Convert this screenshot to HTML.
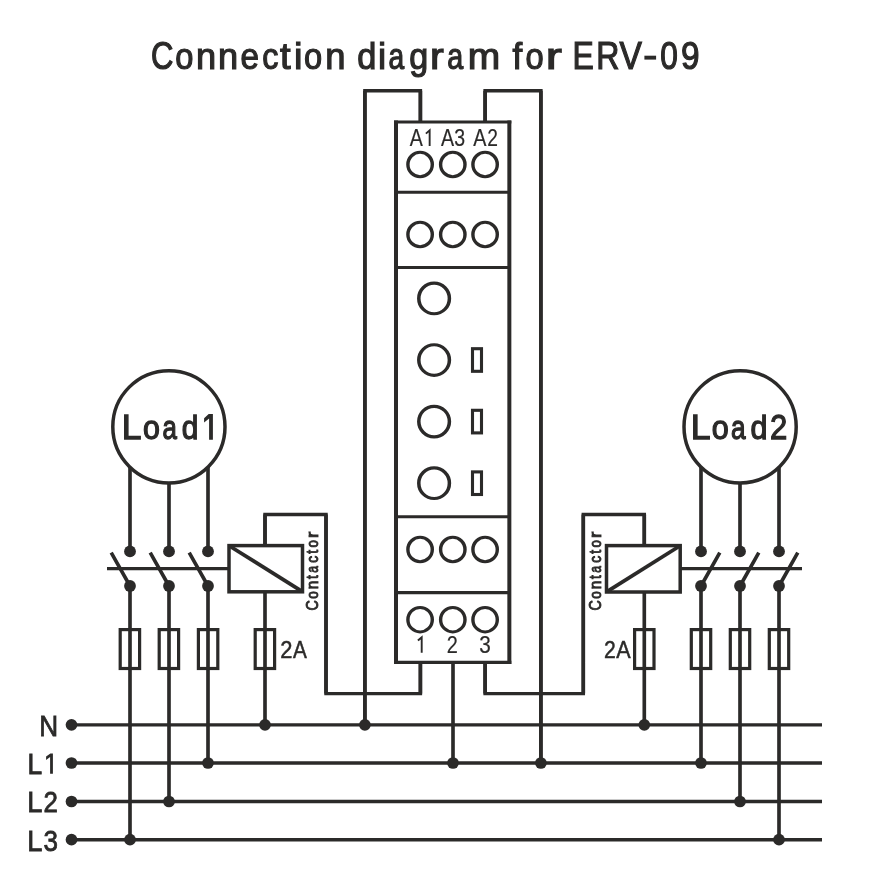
<!DOCTYPE html>
<html><head><meta charset="utf-8"><title>Connection diagram for ERV-09</title>
<style>
html,body{margin:0;padding:0;background:#fff;}
body{width:891px;height:875px;overflow:hidden;}
svg{display:block;will-change:transform;}
text{font-family:"Liberation Sans",sans-serif;fill:#2b2a29;}
</style></head>
<body>
<svg width="891" height="875" viewBox="0 0 891 875">
<g fill="none" stroke="#2b2a29" stroke-linecap="butt" stroke-linejoin="miter">
<path d="M71.5 724.8H822M71.5 763.0H822M71.5 801.5H822M71.5 839.7H822" stroke-width="3.35"/>
<path d="M420.4 122L420.4 90.8L364.9 90.8L364.9 724.8" stroke-width="3.45"/>
<path d="M420.4 122V90.8" stroke-width="3.65"/>
<path d="M364.9 90.8V724.8" stroke-width="3.65"/>
<path d="M485.1 122L485.1 90.8L540.9 90.8L540.9 763.0" stroke-width="3.45"/>
<path d="M485.1 122V90.8" stroke-width="3.65"/>
<path d="M540.9 90.8V763.0" stroke-width="3.65"/>
<path d="M420.4 662.5L420.4 693.6L326 693.6L326 514.4L265 514.4L265 546" stroke-width="3.45"/>
<path d="M420.4 662.5V693.6" stroke-width="3.65"/>
<path d="M326 693.6V514.4" stroke-width="3.65"/>
<path d="M265 514.4V546" stroke-width="3.65"/>
<path d="M485.1 662.5L485.1 693.6L583.3 693.6L583.3 514.4L644.3 514.4L644.3 546" stroke-width="3.45"/>
<path d="M485.1 662.5V693.6" stroke-width="3.65"/>
<path d="M583.3 693.6V514.4" stroke-width="3.65"/>
<path d="M644.3 514.4V546" stroke-width="3.65"/>
<path d="M453 662.5V763.0" stroke-width="3.65"/>
<path d="M130 440V551.5M169 440V551.5M208 440V551.5" stroke-width="3.65"/>
<path d="M130 586V839.7M169 586V801.5M208 586V763.0" stroke-width="3.65"/>
<path d="M701 440V551.5M740 440V551.5M779 440V551.5" stroke-width="3.65"/>
<path d="M701 586V763.0M740 586V801.5M779 586V839.7" stroke-width="3.65"/>
<path d="M265 591V724.8M644.3 591V724.8" stroke-width="3.65"/>
<path d="M111.2 552.6L130 586M150.2 552.6L169 586M189.2 552.6L208 586" stroke-width="3.6"/>
<path d="M719.8 552.6L701 586M758.8 552.6L740 586M797.8 552.6L779 586" stroke-width="3.6"/>
<path d="M107 568.6H229M680.2 568.6H802" stroke-width="3.4"/>
<path d="M394 122.0H511.35M394 662.4H511.35" stroke-width="3.2"/>
<path d="M396 120.4V664.0M509.35 120.4V664.0" stroke-width="4.0"/>
<path d="M396 192.2H509.35M396 267.5H509.35M396 516.8H509.35M396 592.6H509.35" stroke-width="3.05"/>
<rect x="229" y="545.6" width="73.5" height="46.2" fill="#fff" stroke-width="3.5"/>
<path d="M229.5 546L302 591.4" stroke-width="3.8"/>
<rect x="606.5" y="545.6" width="73.7" height="46.4" fill="#fff" stroke-width="3.5"/>
<path d="M607 591.6L679.7 546" stroke-width="3.8"/>
<g fill="#fff" stroke-width="3.2">
<rect x="120.2" y="629.6" width="19.4" height="38.9"/>
<rect x="159.2" y="629.6" width="19.4" height="38.9"/>
<rect x="198.4" y="629.6" width="19.4" height="38.9"/>
<rect x="255.2" y="629.6" width="19.4" height="38.9"/>
<rect x="634.6" y="629.6" width="19.4" height="38.9"/>
<rect x="691.3" y="629.6" width="19.4" height="38.9"/>
<rect x="730.3" y="629.6" width="19.4" height="38.9"/>
<rect x="769.3" y="629.6" width="19.4" height="38.9"/>
</g>
<path d="M130 628V670M169 628V670M208 628V670M265 628V670M644.3 628V670M701 628V670M740 628V670M779 628V670" stroke-width="3.65"/>
<circle cx="168.9" cy="426.8" r="56.1" fill="#fff" stroke-width="3.5"/>
<circle cx="740.1" cy="426.8" r="56.1" fill="#fff" stroke-width="3.5"/>
<g transform="scale(1.12 1)">
<ellipse cx="375.089" cy="164.5" rx="10.893" ry="12.2" stroke-width="3.05"/>
<ellipse cx="404.286" cy="164.5" rx="10.893" ry="12.2" stroke-width="3.05"/>
<ellipse cx="433.125" cy="164.5" rx="10.893" ry="12.2" stroke-width="3.05"/>
<ellipse cx="375.089" cy="234.5" rx="10.893" ry="12.2" stroke-width="3.05"/>
<ellipse cx="404.286" cy="234.5" rx="10.893" ry="12.2" stroke-width="3.05"/>
<ellipse cx="433.125" cy="234.5" rx="10.893" ry="12.2" stroke-width="3.05"/>
<ellipse cx="375.089" cy="549.5" rx="10.893" ry="12.2" stroke-width="3.05"/>
<ellipse cx="404.286" cy="549.5" rx="10.893" ry="12.2" stroke-width="3.05"/>
<ellipse cx="433.125" cy="549.5" rx="10.893" ry="12.2" stroke-width="3.05"/>
<ellipse cx="375.089" cy="619.7" rx="10.893" ry="12.2" stroke-width="3.05"/>
<ellipse cx="404.286" cy="619.7" rx="10.893" ry="12.2" stroke-width="3.05"/>
<ellipse cx="433.125" cy="619.7" rx="10.893" ry="12.2" stroke-width="3.05"/>
<ellipse cx="387.589" cy="298.4" rx="13.661" ry="15.3" stroke-width="3.15"/>
<ellipse cx="387.589" cy="360" rx="13.661" ry="15.3" stroke-width="3.15"/>
<ellipse cx="387.589" cy="421.6" rx="13.661" ry="15.3" stroke-width="3.15"/>
<ellipse cx="387.589" cy="483.2" rx="13.661" ry="15.3" stroke-width="3.15"/>
</g>
<g stroke-width="3.1">
<rect x="472.5" y="348.7" width="9" height="22.6"/>
<rect x="472.5" y="410.3" width="9" height="22.6"/>
<rect x="472.5" y="471.9" width="9" height="22.6"/>
</g>
</g>
<g fill="#2b2a29">
<circle cx="71.5" cy="724.8" r="5.85"/>
<circle cx="71.5" cy="763.0" r="5.85"/>
<circle cx="71.5" cy="801.5" r="5.85"/>
<circle cx="71.5" cy="839.7" r="5.85"/>
<circle cx="265" cy="724.8" r="5.85"/>
<circle cx="364.9" cy="724.8" r="5.85"/>
<circle cx="644.3" cy="724.8" r="5.85"/>
<circle cx="208" cy="763.0" r="5.85"/>
<circle cx="453" cy="763.0" r="5.85"/>
<circle cx="540.9" cy="763.0" r="5.85"/>
<circle cx="701" cy="763.0" r="5.85"/>
<circle cx="169" cy="801.5" r="5.85"/>
<circle cx="740" cy="801.5" r="5.85"/>
<circle cx="130" cy="839.7" r="5.85"/>
<circle cx="779" cy="839.7" r="5.85"/>
<circle cx="130" cy="551.4" r="5.9"/>
<circle cx="130" cy="586" r="5.9"/>
<circle cx="169" cy="551.4" r="5.9"/>
<circle cx="169" cy="586" r="5.9"/>
<circle cx="208" cy="551.4" r="5.9"/>
<circle cx="208" cy="586" r="5.9"/>
<circle cx="701" cy="551.4" r="5.9"/>
<circle cx="701" cy="586" r="5.9"/>
<circle cx="740" cy="551.4" r="5.9"/>
<circle cx="740" cy="586" r="5.9"/>
<circle cx="779" cy="551.4" r="5.9"/>
<circle cx="779" cy="586" r="5.9"/>
</g>
<!-- text -->
<g class="t" stroke="#2b2a29">
<g stroke-width="1.2">
  <text x="150.97" y="69" font-size="39.1" textLength="22.43" lengthAdjust="spacingAndGlyphs">C</text>
  <text x="175.32" y="69" font-size="36.8" textLength="18.15" lengthAdjust="spacingAndGlyphs">o</text>
  <text x="196.12" y="69" font-size="36.8" textLength="20.1" lengthAdjust="spacingAndGlyphs">n</text>
  <text x="218.02" y="69" font-size="36.8" textLength="20.1" lengthAdjust="spacingAndGlyphs">n</text>
  <text x="240.38" y="69" font-size="36.8" textLength="18.43" lengthAdjust="spacingAndGlyphs">e</text>
  <text x="262.31" y="69" font-size="36.8" textLength="16.18" lengthAdjust="spacingAndGlyphs">c</text>
  <text x="280.03" y="69" font-size="36.8" textLength="10.62" lengthAdjust="spacingAndGlyphs">t</text>
  <text x="294.06" y="69" font-size="36.8" textLength="8.5" lengthAdjust="spacingAndGlyphs">i</text>
  <text x="304.02" y="69" font-size="36.8" textLength="18.15" lengthAdjust="spacingAndGlyphs">o</text>
  <text x="325.22" y="69" font-size="36.8" textLength="20.22" lengthAdjust="spacingAndGlyphs">n</text>
  <text x="357.27" y="69" font-size="36.8" textLength="19.09" lengthAdjust="spacingAndGlyphs">d</text>
  <text x="378.12" y="69" font-size="36.8" textLength="8.14" lengthAdjust="spacingAndGlyphs">i</text>
  <text x="388.47" y="69" font-size="36.8" textLength="15.69" lengthAdjust="spacingAndGlyphs">a</text>
  <text x="409.18" y="69" font-size="36.8" textLength="18.97" lengthAdjust="spacingAndGlyphs">g</text>
  <text x="429.99" y="69" font-size="36.8" textLength="13.77" lengthAdjust="spacingAndGlyphs">r</text>
  <text x="447.36" y="69" font-size="36.8" textLength="16.0" lengthAdjust="spacingAndGlyphs">a</text>
  <text x="467.82" y="69" font-size="36.8" textLength="32.45" lengthAdjust="spacingAndGlyphs">m</text>
  <text x="512.56" y="69" font-size="36.8" textLength="9.67" lengthAdjust="spacingAndGlyphs">f</text>
  <text x="525.42" y="69" font-size="36.8" textLength="18.15" lengthAdjust="spacingAndGlyphs">o</text>
  <text x="545.65" y="69" font-size="36.8" textLength="16.14" lengthAdjust="spacingAndGlyphs">r</text>
  <text x="572.47" y="69" font-size="39.1" textLength="21.28" lengthAdjust="spacingAndGlyphs">E</text>
  <text x="596.17" y="69" font-size="39.1" textLength="23.16" lengthAdjust="spacingAndGlyphs">R</text>
  <text x="619.41" y="69" font-size="39.1" textLength="22.4" lengthAdjust="spacingAndGlyphs">V</text>
  <text x="660.27" y="69" font-size="39.1" textLength="17.6" lengthAdjust="spacingAndGlyphs">0</text>
  <text x="681.09" y="69" font-size="39.1" textLength="18.57" lengthAdjust="spacingAndGlyphs">9</text>
</g>
<g stroke-width="1.3">
  <text x="121.84" y="439.3" font-size="35.6" textLength="19.68" lengthAdjust="spacingAndGlyphs">L</text>
  <text x="143.11" y="439.3" font-size="33.5" textLength="16.9" lengthAdjust="spacingAndGlyphs">o</text>
  <text x="162.5" y="439.3" font-size="33.5" textLength="14.39" lengthAdjust="spacingAndGlyphs">a</text>
  <text x="181.73" y="439.3" font-size="33.5" textLength="16.58" lengthAdjust="spacingAndGlyphs">d</text>
  <text x="690.84" y="439.3" font-size="35.6" textLength="19.79" lengthAdjust="spacingAndGlyphs">L</text>
  <text x="711.71" y="439.3" font-size="33.5" textLength="17.01" lengthAdjust="spacingAndGlyphs">o</text>
  <text x="730.9" y="439.3" font-size="33.5" textLength="14.59" lengthAdjust="spacingAndGlyphs">a</text>
  <text x="750.51" y="439.3" font-size="33.5" textLength="16.95" lengthAdjust="spacingAndGlyphs">d</text>
  <text x="769.92" y="439.3" font-size="35.6" textLength="17.29" lengthAdjust="spacingAndGlyphs">2</text>
</g>



<g stroke-width="0.2">
  <text x="409.79" y="145.8" font-size="23.2" textLength="13.06" lengthAdjust="spacingAndGlyphs">A</text>
  <text x="440.89" y="145.8" font-size="23.2" textLength="13.06" lengthAdjust="spacingAndGlyphs">A</text>
  <text x="454.25" y="145.8" font-size="23.2" textLength="10.85" lengthAdjust="spacingAndGlyphs">3</text>
  <text x="473.21" y="145.8" font-size="23.2" textLength="13.17" lengthAdjust="spacingAndGlyphs">A</text>
  <text x="487.29" y="145.8" font-size="23.2" textLength="10.67" lengthAdjust="spacingAndGlyphs">2</text>
  <text x="446.66" y="652.7" font-size="23.0" textLength="11.06" lengthAdjust="spacingAndGlyphs">2</text>
  <text x="479.24" y="652.7" font-size="23.0" textLength="11.55" lengthAdjust="spacingAndGlyphs">3</text>
</g>
<g stroke-width="0.5">
  <text x="280.13" y="657.9" font-size="24.6" textLength="12.21" lengthAdjust="spacingAndGlyphs">2</text>
  <text x="292.95" y="657.9" font-size="24.6" textLength="13.84" lengthAdjust="spacingAndGlyphs">A</text>
  <text x="603.95" y="657.9" font-size="24.6" textLength="11.78" lengthAdjust="spacingAndGlyphs">2</text>
  <text x="616.15" y="657.9" font-size="24.6" textLength="14.35" lengthAdjust="spacingAndGlyphs">A</text>
</g>
<g stroke-width="0.8">
  <text x="39.24" y="735.7" font-size="28.8" textLength="18.87" lengthAdjust="spacingAndGlyphs">N</text>
  <text x="27.47" y="773.8" font-size="28.8" textLength="14.67" lengthAdjust="spacingAndGlyphs">L</text>
  <text x="27.23" y="812" font-size="28.8" textLength="15.14" lengthAdjust="spacingAndGlyphs">L</text>
  <text x="43.57" y="812" font-size="28.8" textLength="14.37" lengthAdjust="spacingAndGlyphs">2</text>
  <text x="27.23" y="851" font-size="28.8" textLength="15.14" lengthAdjust="spacingAndGlyphs">L</text>
  <text x="43.38" y="851" font-size="28.8" textLength="14.47" lengthAdjust="spacingAndGlyphs">3</text>
</g>
<g stroke-width="0.9">
  <g transform="translate(317.8 700) rotate(-90)"><text x="89.51" y="0" font-size="17.4" textLength="10.3" lengthAdjust="spacingAndGlyphs">C</text><text x="101.24" y="0" font-size="16.5" textLength="7.52" lengthAdjust="spacingAndGlyphs">o</text><text x="110.82" y="0" font-size="16.5" textLength="8.48" lengthAdjust="spacingAndGlyphs">n</text><text x="121.04" y="0" font-size="16.5" textLength="3.77" lengthAdjust="spacingAndGlyphs">t</text><text x="127.24" y="0" font-size="16.5" textLength="6.79" lengthAdjust="spacingAndGlyphs">a</text><text x="137.24" y="0" font-size="16.5" textLength="6.89" lengthAdjust="spacingAndGlyphs">c</text><text x="146.24" y="0" font-size="16.5" textLength="3.86" lengthAdjust="spacingAndGlyphs">t</text><text x="152.44" y="0" font-size="16.5" textLength="7.42" lengthAdjust="spacingAndGlyphs">o</text><text x="161.97" y="0" font-size="16.5" textLength="6.4" lengthAdjust="spacingAndGlyphs">r</text></g>
  <g transform="translate(600.7 700) rotate(-90)"><text x="89.51" y="0" font-size="17.4" textLength="10.3" lengthAdjust="spacingAndGlyphs">C</text><text x="101.24" y="0" font-size="16.5" textLength="7.52" lengthAdjust="spacingAndGlyphs">o</text><text x="110.82" y="0" font-size="16.5" textLength="8.48" lengthAdjust="spacingAndGlyphs">n</text><text x="121.04" y="0" font-size="16.5" textLength="3.77" lengthAdjust="spacingAndGlyphs">t</text><text x="127.24" y="0" font-size="16.5" textLength="6.79" lengthAdjust="spacingAndGlyphs">a</text><text x="137.24" y="0" font-size="16.5" textLength="6.89" lengthAdjust="spacingAndGlyphs">c</text><text x="146.24" y="0" font-size="16.5" textLength="3.86" lengthAdjust="spacingAndGlyphs">t</text><text x="152.44" y="0" font-size="16.5" textLength="7.42" lengthAdjust="spacingAndGlyphs">o</text><text x="161.97" y="0" font-size="16.5" textLength="6.4" lengthAdjust="spacingAndGlyphs">r</text></g>
</g>
</g>
<!-- DIN-style "1" glyphs -->
<g class="t" fill="#2b2a29">
  <rect x="644.4" y="55.7" width="11.7" height="3.9"/>
  <path d="M208.7 414.1H212.9V439.8H209.1V418.6L204.1 422.6V418.2Z"/>
  <path d="M50.4 753.4H52.9V773.8H50.1V757L46.1 759.9V756.5Z"/>
</g>
<g class="t" fill="none" stroke="#2b2a29" stroke-width="1.9">
  <path d="M429.65 145.9V130.3L425.9 133.6"/>
  <path d="M421.7 652.7V637.4L417.9 640.6"/>
</g>
</svg>
</body></html>
